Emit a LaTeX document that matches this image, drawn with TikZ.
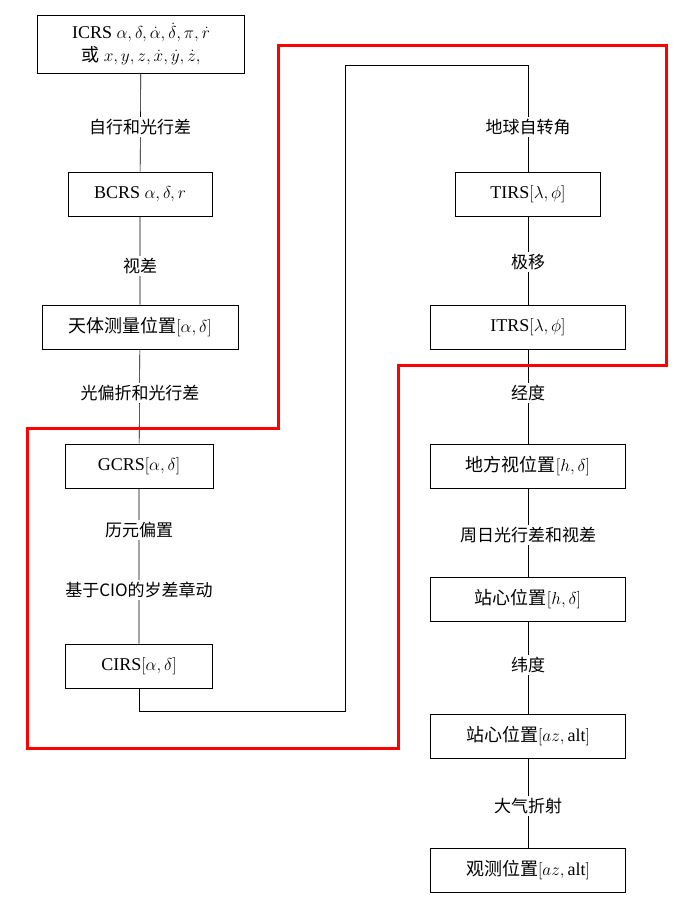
\documentclass[tikz,border=0pt]{standalone}
\usepackage{fontspec}
\setmainfont{Liberation Serif}
\newfontfamily\cjk{Noto Sans CJK SC}
\begin{document}
\begin{tikzpicture}[x=1pt,y=-1pt]
        \tikzset{frame/.style = {draw,thick,minimum height=44pt,inner sep=3pt,fill=white,font=\fontsize{18}{21}\selectfont}}
        \tikzset{step label/.style = {fill=white,inner sep=2pt,font=\cjk\fontsize{17}{19}\selectfont}}
        \useasboundingbox (0,0) rectangle (693,914);
        % left column
        \node[frame,minimum width=207pt,minimum height=58pt,align=center,font=\fontsize{18}{23}\selectfont] (icrs) at (141,44) {ICRS $\alpha,\delta,\dot\alpha,\dot\delta,\pi,\dot r$\\{\cjk 或} $x,y,z,\dot x,\dot y,\dot z,$};
        \node[frame,minimum width=144pt] (bcrs) at (140,194) {BCRS $\alpha,\delta,r$};
        \node[frame,minimum width=196pt] (astro) at (140,327) {{\cjk 天体测量位置}$[\alpha,\delta]$};
        \node[frame,minimum width=148pt] (gcrs) at (139,466) {GCRS$[\alpha,\delta]$};
        \node[frame,minimum width=147pt] (cirs) at (139,666) {CIRS$[\alpha,\delta]$};
        % right column
        \node[frame,minimum width=145pt] (tirs) at (528,194) {TIRS$[\lambda,\phi]$};
        \node[frame,minimum width=195pt] (itrs) at (528,327) {ITRS$[\lambda,\phi]$};
        \node[frame,minimum width=195pt] (local) at (528,466) {{\cjk 地方视位置}$[h,\delta]$};
        \node[frame,minimum width=195pt] (topo) at (528,599) {{\cjk 站心位置}$[h,\delta]$};
        \node[frame,minimum width=195pt] (topoaz) at (528,736) {{\cjk 站心位置}$[az,\mathrm{alt}]$};
        \node[frame,minimum width=195pt] (obs) at (528,870) {{\cjk 观测位置}$[az,\mathrm{alt}]$};
        % connectors
        \draw[semithick] (icrs) -- (bcrs) -- (astro) -- (gcrs) -- (cirs);
        \draw[semithick] (tirs) -- (itrs) -- (local) -- (topo) -- (topoaz) -- (obs);
        \coordinate (c1) at (139,711);
        \coordinate (c2) at (345,711);
        \coordinate (c3) at (345,65);
        \coordinate (c4) at (528,65);
        \draw[semithick] (cirs) -- (c1) -- (c2) -- (c3) -- (c4) -- (tirs);
        % labels on the connectors
        \node[step label] (l1) at (140,127) {自行和光行差};
        \node[step label] (l2) at (140,266) {视差};
        \node[step label] (l3) at (140,393) {光偏折和光行差};
        \node[step label] (l4) at (139,530) {历元偏置};
        \node[step label] (l5) at (139,590) {基于CIO的岁差章动};
        \node[step label] (r1) at (528,127) {地球自转角};
        \node[step label] (r2) at (528,262) {极移};
        \node[step label] (r3) at (528,393) {经度};
        \node[step label] (r4) at (528,535) {周日光行差和视差};
        \node[step label] (r5) at (528,665) {纬度};
        \node[step label] (r6) at (528,806) {大气折射};
        % highlighted region
        \draw[red,line width=3pt] (278,45) -- (666,45) -- (666,365) -- (398,365) -- (398,748) -- (27,748) -- (27,428) -- (278,428) -- cycle;
\end{tikzpicture}
\end{document}
